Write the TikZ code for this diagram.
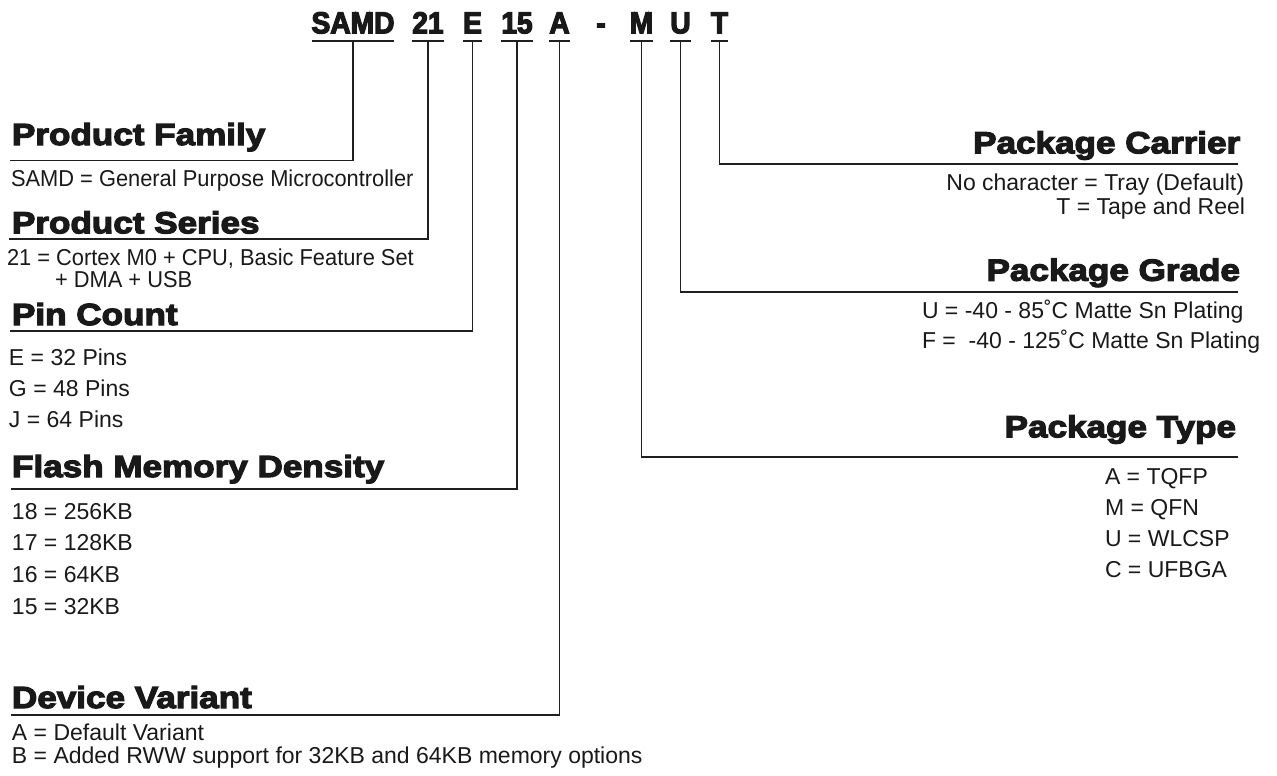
\documentclass[tikz,border=0pt]{standalone}
\usepackage{fontspec}
\setmainfont{Liberation Sans}
\newfontfamily\narrowfont[FakeStretch=0.95]{Liberation Sans}
\newfontfamily\headfont[FakeStretch=1.15,FakeBold=4]{Liberation Sans Bold}
\newfontfamily\titlefont[FakeStretch=0.93,FakeBold=4]{Liberation Sans Bold}
\begin{document}
\begin{tikzpicture}[x=1pt,y=-1pt,
  every node/.style={inner sep=0pt,outer sep=0pt,text=black!90},
  tchar/.style={anchor=base,font=\titlefont\fontsize{30.3}{30}\selectfont},
  headL/.style={anchor=base west,font=\headfont\fontsize{30.5}{30}\selectfont},
  headR/.style={anchor=base east,font=\headfont\fontsize{30.5}{30}\selectfont},
  txtL/.style={anchor=base west,font=\fontsize{23}{23}\selectfont},
  txtN/.style={anchor=base west,font=\narrowfont\fontsize{23}{23}\selectfont},
  txtR/.style={anchor=base east,font=\fontsize{23}{23}\selectfont},
  rule/.style={line width=1.8pt,color=black!88},
  uline/.style={line width=1.8pt,color=black!88}]
\useasboundingbox (0,0) rectangle (1277,776);

% title characters
\node[tchar] (tSAMD) at (353,33.3) {SAMD};
\node[tchar] (t21) at (428,33.3) {21};
\node[tchar] (tE) at (472.5,33.3) {E};
\node[tchar] (t15) at (517,33.3) {15};
\node[tchar] (tA) at (559.5,33.3) {A};
\node[tchar] (tdash) at (601,33.3) {-};
\node[tchar] (tM) at (641.5,33.3) {M};
\node[tchar] (tU) at (680.5,33.3) {U};
\node[tchar] (tT) at (719.5,33.3) {T};

\foreach \n in {tSAMD,t21,tE,t15,tA,tM,tU,tT}{
  \draw[uline] ([yshift=-7.5pt]\n.south west) -- ([yshift=-7.5pt]\n.south east);
}

% line end coordinates
\coordinate (pfL) at (9.5,160.5);
\coordinate (psL) at (9,239);
\coordinate (pcL) at (10,330.7);
\coordinate (fmL) at (11,489);
\coordinate (dvL) at (11,715);
\coordinate (carR) at (1238,164);
\coordinate (grR) at (1238,292.3);
\coordinate (tyR) at (1238,456.7);

\draw[rule] ([yshift=-7.5pt]tSAMD.south) |- (pfL);
\draw[rule] ([yshift=-7.5pt]t21.south) |- (psL);
\draw[rule] ([yshift=-7.5pt]tE.south) |- (pcL);
\draw[rule] ([yshift=-7.5pt]t15.south) |- (fmL);
\draw[rule] ([yshift=-7.5pt]tA.south) |- (dvL);
\draw[rule] ([yshift=-7.5pt]tM.south) |- (tyR);
\draw[rule] ([yshift=-7.5pt]tU.south) |- (grR);
\draw[rule] ([yshift=-7.5pt]tT.south) |- (carR);

% left side
\node[headL] (hpf) at (12,145) {Product Family};
\node[txtN] (pf1) at (11,186.7) {SAMD = General Purpose Microcontroller};
\node[headL] (hps) at (12,233.3) {Product Series};
\node[txtN] (ps1) at (7,265) {21 = Cortex M0 + CPU, Basic Feature Set};
\node[txtN] (ps2) at (55,287.7) {+ DMA + USB};
\node[headL] (hpc) at (12,325) {Pin Count};
\node[txtL] (pc1) at (9,365) {E = 32 Pins};
\node[txtL] (pc2) at (9,396) {G = 48 Pins};
\node[txtL] (pc3) at (9,427) {J = 64 Pins};
\node[headL] (hfm) at (12,477) {Flash Memory Density};
\node[txtL] (fm1) at (12,519.3) {18 = 256KB};
\node[txtL] (fm2) at (12,550.7) {17 = 128KB};
\node[txtL] (fm3) at (12,582) {16 = 64KB};
\node[txtL] (fm4) at (12,614) {15 = 32KB};
\node[headL] (hdv) at (12,708) {Device Variant};
\node[txtL] (dv1) at (12,740) {A = Default Variant};
\node[txtL] (dv2) at (12,763) {B = Added RWW support for 32KB and 64KB memory options};

% right side
\node[headR] (hcar) at (1240.3,153.3) {Package Carrier};
\node[txtR] (car1) at (1244,190.7) {No character = Tray (Default)};
\node[txtR] (car2) at (1245,214) {T = Tape and Reel};
\node[headR] (hgr) at (1240,280.7) {Package Grade};
\node[txtL] (gr1) at (922,318.3) {U = -40 - 85˚C Matte Sn Plating};
\node[txtL] (gr2) at (922,348.3) {F = \ -40 - 125˚C Matte Sn Plating};
\node[headR] (hty) at (1236,437.3) {Package Type};
\node[txtL] (ty1) at (1105,484) {A = TQFP};
\node[txtL] (ty2) at (1105,515) {M = QFN};
\node[txtL] (ty3) at (1105,546) {U = WLCSP};
\node[txtL] (ty4) at (1105,577) {C = UFBGA};
\end{tikzpicture}
\end{document}
